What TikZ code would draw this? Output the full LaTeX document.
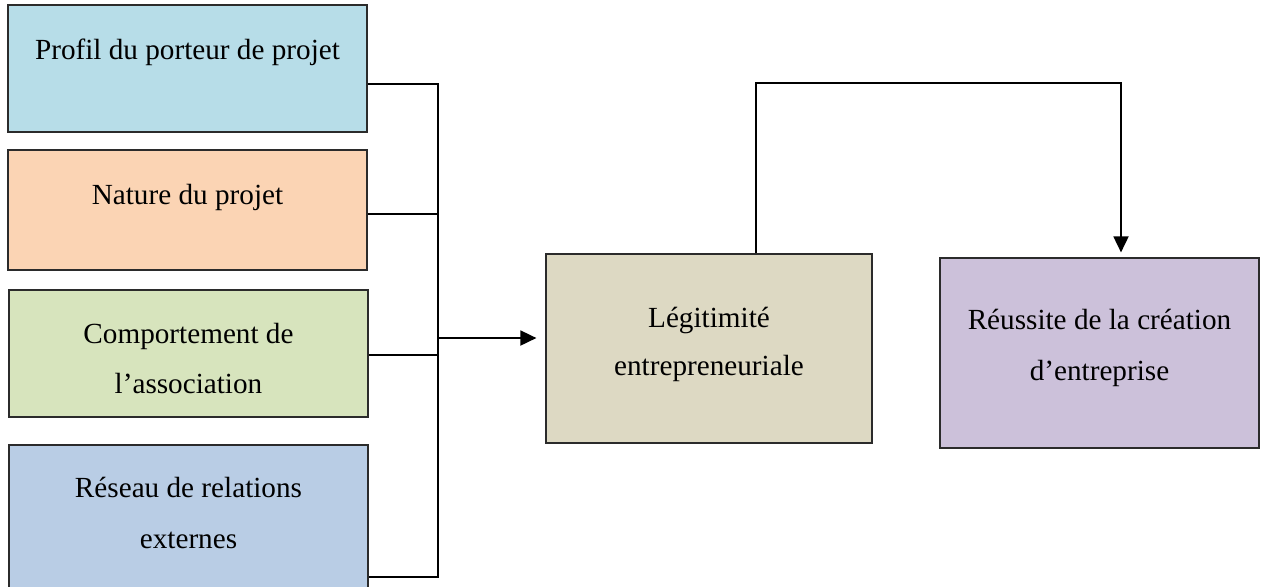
\documentclass[tikz,border=0pt]{standalone}
\usepackage{fontspec}
\setmainfont{Liberation Serif}
\usetikzlibrary{arrows.meta}
\definecolor{cA}{HTML}{B7DDE8}
\definecolor{cB}{HTML}{FBD4B4}
\definecolor{cC}{HTML}{D7E4BD}
\definecolor{cD}{HTML}{B9CDE5}
\definecolor{cE}{HTML}{DDD9C3}
\definecolor{cF}{HTML}{CCC1DA}
\definecolor{bord}{HTML}{2B2B2B}
\tikzset{
  box/.style={draw=bord, line width=0.6pt, rectangle, inner sep=0pt},
  lbl/.style={anchor=base, inner sep=0pt, font=\fontsize{14.6pt}{25pt}\selectfont},
  conn/.style={draw=black, line width=0.9pt},
  arr/.style={conn, -{Triangle[length=8pt,width=7.5pt]}}
}
\begin{document}
\begin{tikzpicture}[x=0.5pt,y=-0.5pt]
\useasboundingbox (0,0) rectangle (1280,586);
% boxes
\node[box, fill=cA, minimum width=179.5pt, minimum height=63.5pt] (p1) at (187.5,68.5) {};
\node[box, fill=cB, minimum width=179.5pt, minimum height=60pt] (p2) at (187.5,210) {};
\node[box, fill=cC, minimum width=179.5pt, minimum height=63.5pt] (p3) at (188.5,353.5) {};
\node[box, fill=cD, minimum width=179.5pt, minimum height=80pt] (p4) at (188.5,525) {};
\node[box, fill=cE, minimum width=163pt, minimum height=94.5pt] (leg) at (709,348.5) {};
\node[box, fill=cF, minimum width=159.5pt, minimum height=95pt] (reu) at (1099.5,353) {};
% texts
\node[lbl] (t1) at (187.5,59) {Profil du porteur de projet};
\node[lbl] (t2) at (187.5,204) {Nature du projet};
\node[lbl] (t3a) at (188.5,343) {Comportement de};
\node[lbl] (t3b) at (188.5,393) {l’association};
\node[lbl] (t4a) at (188.5,497) {Réseau de relations};
\node[lbl] (t4b) at (188.5,548) {externes};
\node[lbl] (t5a) at (709,327) {Légitimité};
\node[lbl] (t5b) at (709,375) {entrepreneuriale};
\node[lbl] (t6a) at (1099.5,329) {Réussite de la création};
\node[lbl] (t6b) at (1099.5,380) {d’entreprise};
% junction coordinates
\coordinate (j1) at (438,84);
\coordinate (j2) at (438,214);
\coordinate (j3) at (438,355);
\coordinate (j4) at (438,577);
\coordinate (ja) at (438,338);
\coordinate (up1) at (756,83);
\coordinate (up2) at (1121,83);
% connectors
\draw[conn] (p1.east |- j1) -- (j1) -- (j4) -- (p4.east |- j4);
\draw[conn] (p2.east |- j2) -- (j2);
\draw[conn] (p3.east |- j3) -- (j3);
\draw[arr] (ja) -- ([xshift=-4.5pt]leg.west |- ja);
\draw[arr] (leg.north -| up1) -- (up1) -- (up2) -- ([yshift=2.5pt]reu.north -| up2);
\end{tikzpicture}
\end{document}
